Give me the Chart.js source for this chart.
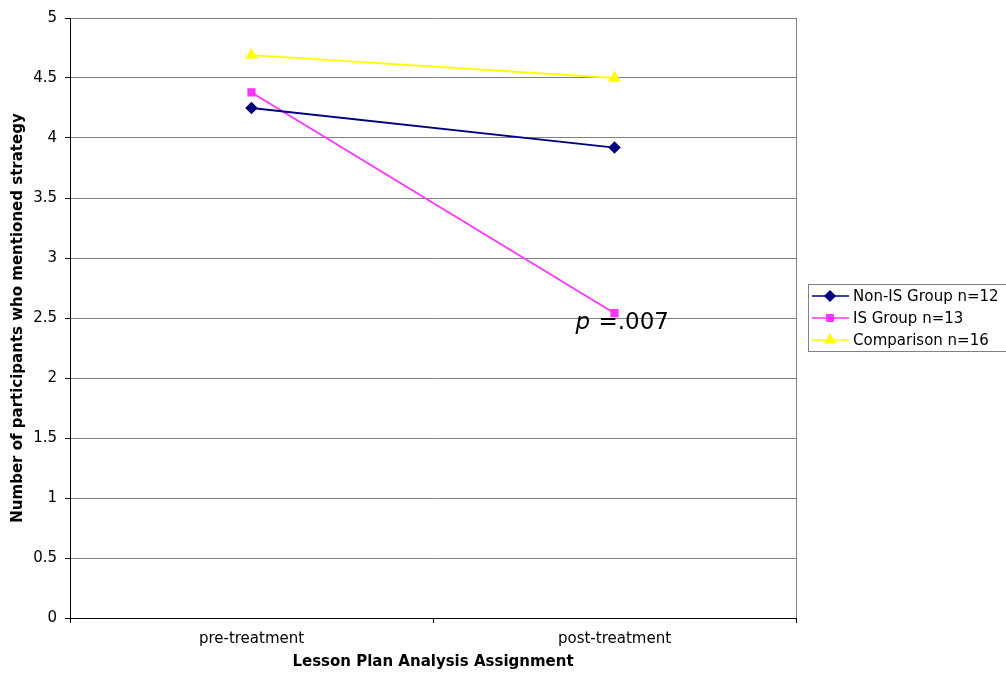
<!DOCTYPE html>
<html>
<head>
<meta charset="utf-8">
<script src="https://cdn.jsdelivr.net/npm/chart.js@4"></script>
<style>
  html, body { margin: 0; padding: 0; background: #fff; }
  #wrap { width: 1006px; height: 677px; }
</style>
</head>
<body>
<div id="wrap"><canvas id="myChart"></canvas></div>
<script>
// Values
const categories = ['pre-treatment', 'post-treatment'];
const nonIsGroup = [4.25, 3.92];
const isGroup = [4.38, 2.54];
const comparison = [4.69, 4.5];
const seriesNames = ['Non-IS Group n=12', 'IS Group n=13', 'Comparison n=16'];
const annotationText = '=.007';

const FONT = 'Verdana, "DejaVu Sans", sans-serif';

// legend box with line + marker samples, like the spreadsheet legend
const boxLegend = {
    id: 'boxLegend',
    afterDraw(chart) {
        const ctx = chart.ctx;
        const x0 = 808, y0 = 284, w = 210, h = 67;
        ctx.save();
        ctx.fillStyle = '#fff';
        ctx.fillRect(x0, y0, w, h);
        ctx.strokeStyle = '#808080';
        ctx.lineWidth = 1;
        ctx.strokeRect(x0 + 0.5, y0 + 0.5, w, h);
        ctx.font = '15px ' + FONT;
        ctx.textBaseline = 'middle';
        chart.data.datasets.forEach((ds, i) => {
            const y = y0 + 12 + i * 22;
            ctx.strokeStyle = ds.borderColor;
            ctx.lineWidth = 1.5;
            ctx.beginPath();
            ctx.moveTo(812, y);
            ctx.lineTo(849, y);
            ctx.stroke();
            ctx.fillStyle = ds.pointBackgroundColor;
            ctx.strokeStyle = ds.pointBorderColor;
            Chart.helpers.drawPoint(ctx, {
                pointStyle: ds.pointStyle, radius: ds.pointRadius, borderWidth: 1
            }, 830, y);
            ctx.fillStyle = '#000';
            ctx.fillText(ds.label, 853, y + 1);
        });
        ctx.restore();
    }
};

// "p =.007" note next to the IS post-treatment point
const pNote = {
    id: 'pNote',
    afterDatasetsDraw(chart) {
        const ctx = chart.ctx;
        const x = chart.scales.x.getPixelForValue(1) - 39;
        const y = chart.scales.y.getPixelForValue(2.46);
        ctx.save();
        ctx.fillStyle = '#000';
        ctx.textBaseline = 'middle';
        ctx.font = 'italic 23px ' + FONT;
        ctx.fillText('p', x, y);
        const pw = ctx.measureText('p ').width;
        ctx.font = '23px ' + FONT;
        ctx.fillText(annotationText, x + pw + 1, y);
        ctx.restore();
    }
};

const ctx = document.getElementById('myChart').getContext('2d');
const myChart = new Chart(ctx, {
    type: 'line',
    data: {
        labels: categories,
        datasets: [{
            label: seriesNames[0],
            data: nonIsGroup,
            borderColor: '#000080',
            pointBackgroundColor: '#000080',
            pointBorderColor: '#000080',
            pointStyle: 'rectRot',
            pointRadius: 5,
            borderWidth: 1.8
        }, {
            label: seriesNames[1],
            data: isGroup,
            borderColor: '#ff33ff',
            pointBackgroundColor: '#ff33ff',
            pointBorderColor: '#ff33ff',
            pointStyle: 'rect',
            pointRadius: 4.5,
            borderWidth: 1.8
        }, {
            label: seriesNames[2],
            data: comparison,
            borderColor: '#ffff00',
            pointBackgroundColor: '#ffff00',
            pointBorderColor: '#ffff00',
            pointStyle: 'triangle',
            pointRadius: 5.5,
            borderWidth: 1.8
        }]
    },
    options: {
        responsive: true,
        maintainAspectRatio: false,
        animation: false,
        layout: { padding: { top: 18, right: 210, left: 0, bottom: 0 } },
        plugins: {
            legend: { display: false },
            tooltip: { enabled: false }
        },
        scales: {
            x: {
                offset: true,
                afterFit: s => { s.height = 59; },
                grid: {
                    offset: true,
                    drawOnChartArea: false,
                    tickLength: 5,
                    tickColor: '#000'
                },
                border: { color: '#000', width: 1 },
                ticks: { color: '#000', font: { family: FONT, size: 15 }, padding: 7 },
                title: {
                    display: true,
                    text: 'Lesson Plan Analysis Assignment',
                    color: '#000',
                    font: { family: FONT, size: 15, weight: 'bold' },
                    padding: { top: 0, bottom: 6 }
                }
            },
            y: {
                min: 0,
                max: 5,
                afterFit: s => { s.width = 70; },
                grid: {
                    color: '#808080',
                    tickLength: 5,
                    tickColor: '#000'
                },
                border: { color: '#000', width: 1 },
                ticks: {
                    stepSize: 0.5,
                    color: '#000',
                    font: { family: FONT, size: 15 },
                    padding: 8,
                    callback: v => String(v)
                },
                title: {
                    display: true,
                    text: 'Number of participants who mentioned strategy',
                    color: '#000',
                    font: { family: FONT, size: 15, weight: 'bold' },
                    padding: { top: 9, bottom: 0 }
                }
            }
        }
    },
    plugins: [pNote, boxLegend, {
        id: 'rightBorder',
        afterDraw(chart) {
            const a = chart.chartArea;
            const c = chart.ctx;
            c.save();
            c.strokeStyle = '#808080';
            c.lineWidth = 1;
            c.beginPath();
            c.moveTo(a.right + 0.5, a.top);
            c.lineTo(a.right + 0.5, a.bottom);
            c.stroke();
            c.restore();
        }
    }]
});
</script>
</body>
</html>
